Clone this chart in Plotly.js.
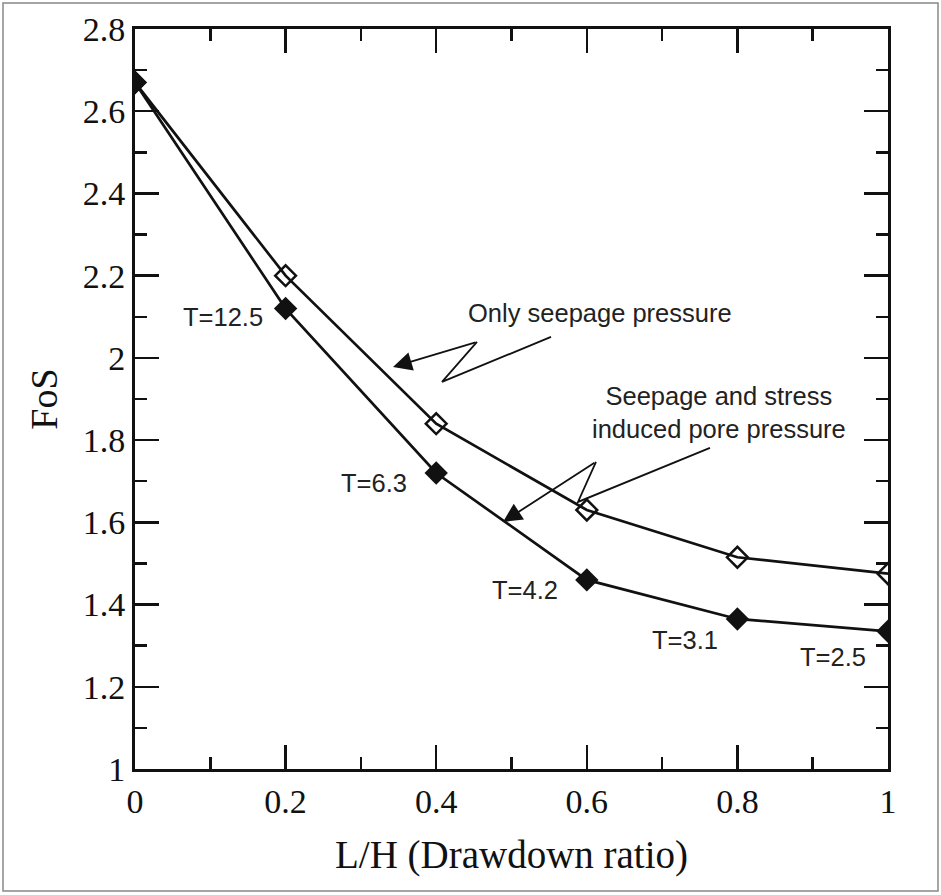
<!DOCTYPE html>
<html>
<head>
<meta charset="utf-8">
<script src="https://cdn.plot.ly/plotly-3.0.1.min.js"></script>
<style>
html,body{margin:0;padding:0;background:#fff;}
#chart{width:941px;height:895px;}
</style>
</head>
<body>
<div id="chart"></div>
<script>
// Data
const drawdownRatio = [0, 0.2, 0.4, 0.6, 0.8, 1.0];
const fosSeepageOnly = [2.67, 2.20, 1.84, 1.63, 1.515, 1.475];
const fosSeepageStress = [2.67, 2.12, 1.72, 1.46, 1.365, 1.335];
const tLabels = ["T=12.5", "T=6.3", "T=4.2", "T=3.1", "T=2.5"];
const tLabelPos = [[0.117, 2.10], [0.317, 1.696], [0.518, 1.4355], [0.730, 1.314], [0.927, 1.2725]];

const traces = [
  {
    x: drawdownRatio, y: fosSeepageOnly, type: 'scatter', mode: 'lines+markers',
    name: 'Only seepage pressure',
    line: {color: '#111', width: 2.7},
    marker: {symbol: 'diamond-open', size: 16, color: '#111', line: {width: 2.5, color: '#111'}}
  },
  {
    x: drawdownRatio, y: fosSeepageStress, type: 'scatter', mode: 'lines+markers',
    name: 'Seepage and stress induced pore pressure',
    line: {color: '#111', width: 2.7},
    marker: {symbol: 'diamond', size: 18, color: '#111'}
  }
];

const annFont = {family: 'Liberation Sans, Arial, sans-serif', size: 25.5, color: '#222'};
const annotations = tLabels.map((t, i) => ({
  x: tLabelPos[i][0], y: tLabelPos[i][1], xref: 'x', yref: 'y', text: t,
  showarrow: false, font: annFont
}));
annotations.push(
  {x: 0.6175, y: 2.109, xref: 'x', yref: 'y', text: 'Only seepage pressure', showarrow: false, font: annFont},
  {x: 0.7756, y: 1.866, xref: 'x', yref: 'y', text: 'Seepage and stress<br>induced pore pressure', showarrow: false, font: annFont, align: 'center'},
  {x: 0.3426, y: 1.978, ax: 0.4542, ay: 2.0389, xref: 'x', yref: 'y', axref: 'x', ayref: 'y',
   text: '', showarrow: true, arrowhead: 2, arrowsize: 2.1, arrowwidth: 1.8, arrowcolor: '#111'},
  {x: 0.4887, y: 1.601, ax: 0.6122, ay: 1.747, xref: 'x', yref: 'y', axref: 'x', ayref: 'y',
   text: '', showarrow: true, arrowhead: 2, arrowsize: 2.1, arrowwidth: 1.8, arrowcolor: '#111'}
);

const shapes = [
  {type: 'path', xref: 'x', yref: 'y', path: 'M 0.5525 2.051 L 0.4077 1.9416 L 0.4542 2.0389', line: {color: '#111', width: 1.8}},
  {type: 'path', xref: 'x', yref: 'y', path: 'M 0.7636 1.781 L 0.5883 1.6496 L 0.6122 1.747', line: {color: '#111', width: 1.8}},
  {type: 'rect', xref: 'paper', yref: 'paper', x0: -0.1753, x1: 1.0664, y0: -0.1649, y1: 1.0351,
   line: {color: '#888', width: 1.5}, layer: 'below'}
];

const serif = 'Liberation Serif, Times New Roman, serif';
const axisCommon = {
  showline: true, linecolor: '#111', linewidth: 3, mirror: 'allticks',
  ticks: 'inside', ticklen: 24, tickwidth: 2.5, tickcolor: '#111',
  showgrid: false, zeroline: false,
  tickfont: {family: serif, size: 34, color: '#111'},
  minor: {ticks: 'inside', ticklen: 12, tickwidth: 2.5, tickcolor: '#111', showgrid: false}
};

const layout = {
  width: 941, height: 895,
  margin: {l: 135, r: 53, t: 29, b: 126},
  paper_bgcolor: '#fff', plot_bgcolor: '#fff',
  showlegend: false,
  xaxis: Object.assign({}, axisCommon, {
    range: [0, 1], dtick: 0.2, tick0: 0,
    minor: Object.assign({}, axisCommon.minor, {dtick: 0.1}),
    title: {text: 'L/H (Drawdown ratio)', standoff: 22,
      font: {family: serif, size: 39, color: '#111'}}
  }),
  yaxis: Object.assign({}, axisCommon, {
    range: [1, 2.8], dtick: 0.2, tick0: 1,
    minor: Object.assign({}, axisCommon.minor, {dtick: 0.1}),
    title: {text: 'FoS', standoff: 14,
      font: {family: serif, size: 38, color: '#111'}}
  }),
  annotations: annotations,
  shapes: shapes
};

Plotly.newPlot('chart', traces, layout, {displayModeBar: false, staticPlot: true});
</script>
</body>
</html>
